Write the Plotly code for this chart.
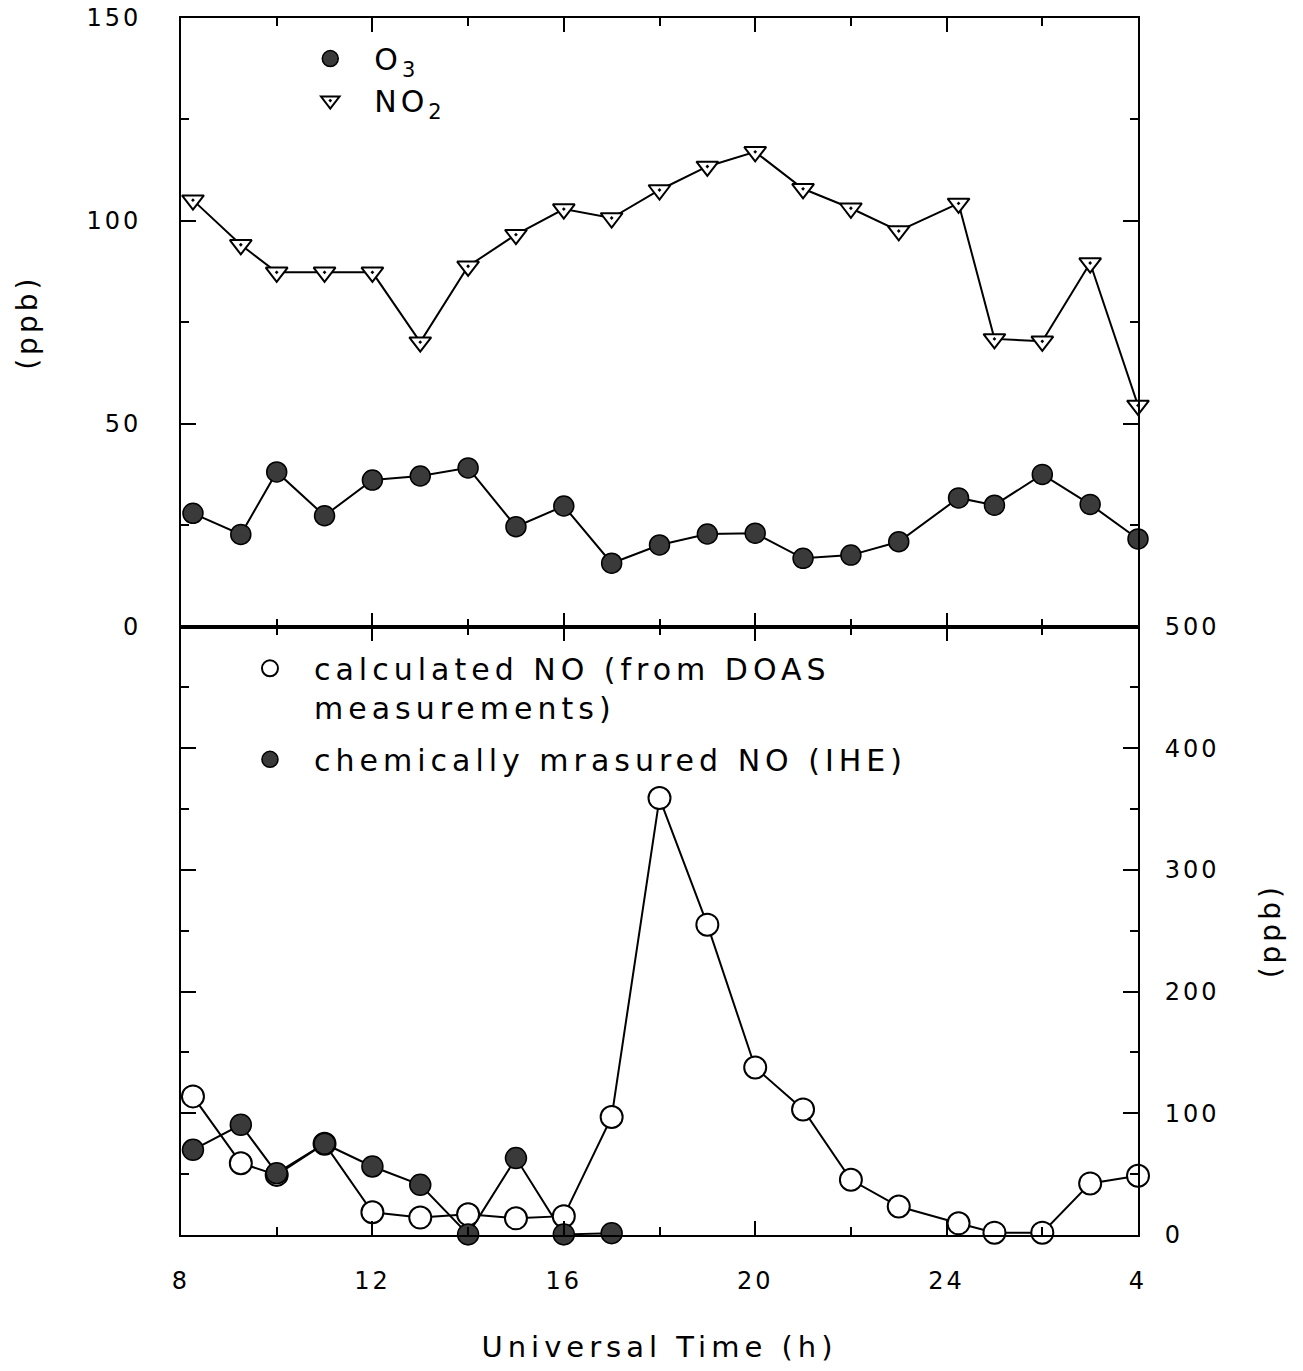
import plotly.graph_objects as go

# ---------------- data ----------------
hours = [8.25, 9.25, 10, 11, 12, 13, 14, 15, 16, 17, 18, 19, 20, 21, 22, 23, 24.25, 25, 26, 27, 28]
no2_ppb = [105.1, 94.1, 87.3, 87.3, 87.3, 70.1, 88.8, 96.6, 102.9, 100.7, 107.6, 113.4,
           117.0, 107.9, 103.1, 97.5, 104.3, 70.9, 70.3, 89.6, 54.5]
o3_ppb = [27.9, 22.7, 38.1, 27.3, 36.1, 37.1, 39.1, 24.6, 29.7, 15.6, 20.1, 22.8,
          23.0, 16.8, 17.6, 20.9, 31.7, 29.9, 37.5, 30.1, 21.6]
no_calc_ppb = [113.9, 59.0, 49.4, 75.0, 18.7, 14.3, 17.0, 13.7, 15.5, 97.0, 359.0, 255.0,
               137.6, 103.2, 45.4, 23.4, 9.6, 1.9, 1.9, 42.4, 48.7]
hours_chem = [8.25, 9.25, 10, 11, 12, 13, 14, 15, 16, 17]
no_chem_ppb = [70.0, 90.6, 50.8, 75.0, 56.3, 41.2, 0.5, 63.2, 0.5, 1.5]

x_tickvals = [8, 12, 16, 20, 24, 28]
x_ticktext = ["8", "12", "16", "20", "24", "4"]
x_minor = [10, 14, 18, 22, 26]
top_tickvals = [0, 50, 100, 150]
top_minor = [25, 75, 125]
bot_tickvals = [0, 100, 200, 300, 400, 500]
bot_minor = [50, 150, 250, 350, 450]

FONT = "DejaVu Sans"


def ls(t, px):
    return f'<span style="letter-spacing:{px}px">{t}</span>'


fig = go.Figure()
LINE = dict(color="black", width=2)

# ---------------- top panel ----------------
fig.add_trace(go.Scatter(x=hours, y=o3_ppb, xaxis="x2", yaxis="y", mode="lines",
                         line=LINE, showlegend=False, hoverinfo="skip"))
fig.add_trace(go.Scatter(x=hours, y=no2_ppb, xaxis="x2", yaxis="y", mode="lines",
                         line=LINE, showlegend=False, hoverinfo="skip"))
fig.add_trace(go.Scatter(
    x=hours, y=o3_ppb, xaxis="x2", yaxis="y", mode="markers",
    name=ls("O<sub>3</sub>", 4), legend="legend", cliponaxis=False,
    marker=dict(symbol="circle", size=20, color="#3a3a3a", line=dict(color="black", width=1.5)),
))
fig.add_trace(go.Scatter(
    x=hours, y=no2_ppb, xaxis="x2", yaxis="y", mode="markers",
    name=ls("NO<sub>2</sub>", 4), legend="legend", cliponaxis=False,
    marker=dict(symbol="triangle-down-dot", size=19, color="white", line=dict(color="black", width=2)),
))

# ---------------- bottom panel ----------------
fig.add_trace(go.Scatter(x=hours, y=no_calc_ppb, xaxis="x", yaxis="y2", mode="lines",
                         line=LINE, showlegend=False, hoverinfo="skip"))
fig.add_trace(go.Scatter(x=hours_chem, y=no_chem_ppb, xaxis="x", yaxis="y2", mode="lines",
                         line=LINE, showlegend=False, hoverinfo="skip"))
fig.add_trace(go.Scatter(
    x=hours, y=no_calc_ppb, xaxis="x", yaxis="y2", mode="markers",
    name=ls("calculated NO (from DOAS<br>measurements)", 5), legend="legend2", legendgroup="calc",
    cliponaxis=False,
    marker=dict(symbol="circle", size=22, color="white", line=dict(color="black", width=2)),
))
fig.add_trace(go.Scatter(
    x=hours_chem, y=no_chem_ppb, xaxis="x", yaxis="y2", mode="markers",
    name=ls("chemically mrasured NO (IHE)", 5), legend="legend2", legendgroup="chem",
    cliponaxis=False,
    marker=dict(symbol="circle", size=21, color="#3a3a3a", line=dict(color="black", width=1.5)),
))

tickfont = dict(family=FONT, size=24, color="black")
common = dict(showgrid=False, zeroline=False, linecolor="black", linewidth=2,
              tickcolor="black", tickwidth=2, automargin=False)

x_ticktext_s = [ls(t, 3) for t in x_ticktext]
top_ticktext_s = [ls(str(v), 3) for v in top_tickvals]
bot_ticktext_s = [ls(str(v), 3) for v in bot_tickvals]

fig.update_layout(
    width=1303, height=1371,
    margin=dict(l=181, r=165, t=18, b=136, autoexpand=False),
    paper_bgcolor="white", plot_bgcolor="white",
    showlegend=True,
    font=dict(family=FONT, size=24, color="black"),
    # bottom panel x axis (labels)
    xaxis=dict(domain=[0, 1], anchor="y2", range=[8, 28], showline=True, mirror="ticks",
               ticks="inside", ticklen=14, tickvals=x_tickvals, ticktext=x_ticktext_s,
               tickfont=tickfont, ticklabelstandoff=23, ticklabeloverflow="allow",
               minor=dict(tickvals=x_minor, ticks="inside", ticklen=8, tickcolor="black", tickwidth=2),
               title=dict(text=ls("Universal Time (h)", 5), font=dict(family=FONT, size=29), standoff=43),
               **common),
    # outside ticks for bottom edge
    xaxis3=dict(overlaying="x", anchor="y2", side="bottom", range=[8, 28], showline=False,
                ticks="outside", ticklen=14, tickvals=x_tickvals, showticklabels=False,
                minor=dict(tickvals=x_minor, ticks="outside", ticklen=8, tickcolor="black", tickwidth=2),
                **common),
    # top panel x axis
    xaxis2=dict(domain=[0, 1], anchor="y", matches="x", range=[8, 28], showline=True, mirror="ticks",
                ticks="inside", ticklen=14, tickvals=x_tickvals, showticklabels=False,
                minor=dict(tickvals=x_minor, ticks="inside", ticklen=8, tickcolor="black", tickwidth=2),
                **common),
    # top panel y (left labels)
    yaxis=dict(domain=[0.5, 1], anchor="x2", range=[0, 150], showline=True, mirror="ticks",
               ticks="inside", ticklen=15, tickvals=top_tickvals, ticktext=top_ticktext_s,
               tickfont=tickfont, ticklabelstandoff=33, ticklabeloverflow="allow",
               minor=dict(tickvals=top_minor, ticks="inside", ticklen=8, tickcolor="black", tickwidth=2),
               title=dict(text=ls("(ppb)", 4), font=dict(family=FONT, size=28), standoff=41),
               **common),
    yaxis3=dict(overlaying="y", anchor="x2", range=[0, 150], showline=False, mirror="ticks",
                ticks="outside", ticklen=15, tickvals=top_tickvals, showticklabels=False,
                minor=dict(tickvals=top_minor, ticks="outside", ticklen=8, tickcolor="black", tickwidth=2),
                **common),
    # bottom panel y (right labels)
    yaxis2=dict(domain=[0, 0.5], anchor="x", side="right", range=[0, 500], showline=True, mirror="ticks",
                ticks="inside", ticklen=15, tickvals=bot_tickvals, ticktext=bot_ticktext_s,
                tickfont=tickfont, ticklabelstandoff=20, ticklabeloverflow="allow",
                minor=dict(tickvals=bot_minor, ticks="inside", ticklen=8, tickcolor="black", tickwidth=2),
                title=dict(text=ls("(ppb)", 4), font=dict(family=FONT, size=28), standoff=42),
                **common),
    yaxis4=dict(overlaying="y2", anchor="x", side="right", range=[0, 500], showline=False, mirror="ticks",
                ticks="outside", ticklen=15, tickvals=bot_tickvals, showticklabels=False,
                minor=dict(tickvals=bot_minor, ticks="outside", ticklen=8, tickcolor="black", tickwidth=2),
                **common),
    legend=dict(x=0.11, y=0.988, xanchor="left", yanchor="top", bgcolor="rgba(0,0,0,0)",
                font=dict(family=FONT, size=30), itemwidth=78, itemsizing="trace", tracegroupgap=0),
    legend2=dict(x=0.047, y=0.487, xanchor="left", yanchor="top", bgcolor="rgba(0,0,0,0)",
                 font=dict(family=FONT, size=30), itemwidth=78, itemsizing="trace", valign="top",
                 tracegroupgap=10),
)

fig.write_html("out.html", config={"displayModeBar": False},
               post_script="document.body.style.margin='0';")
